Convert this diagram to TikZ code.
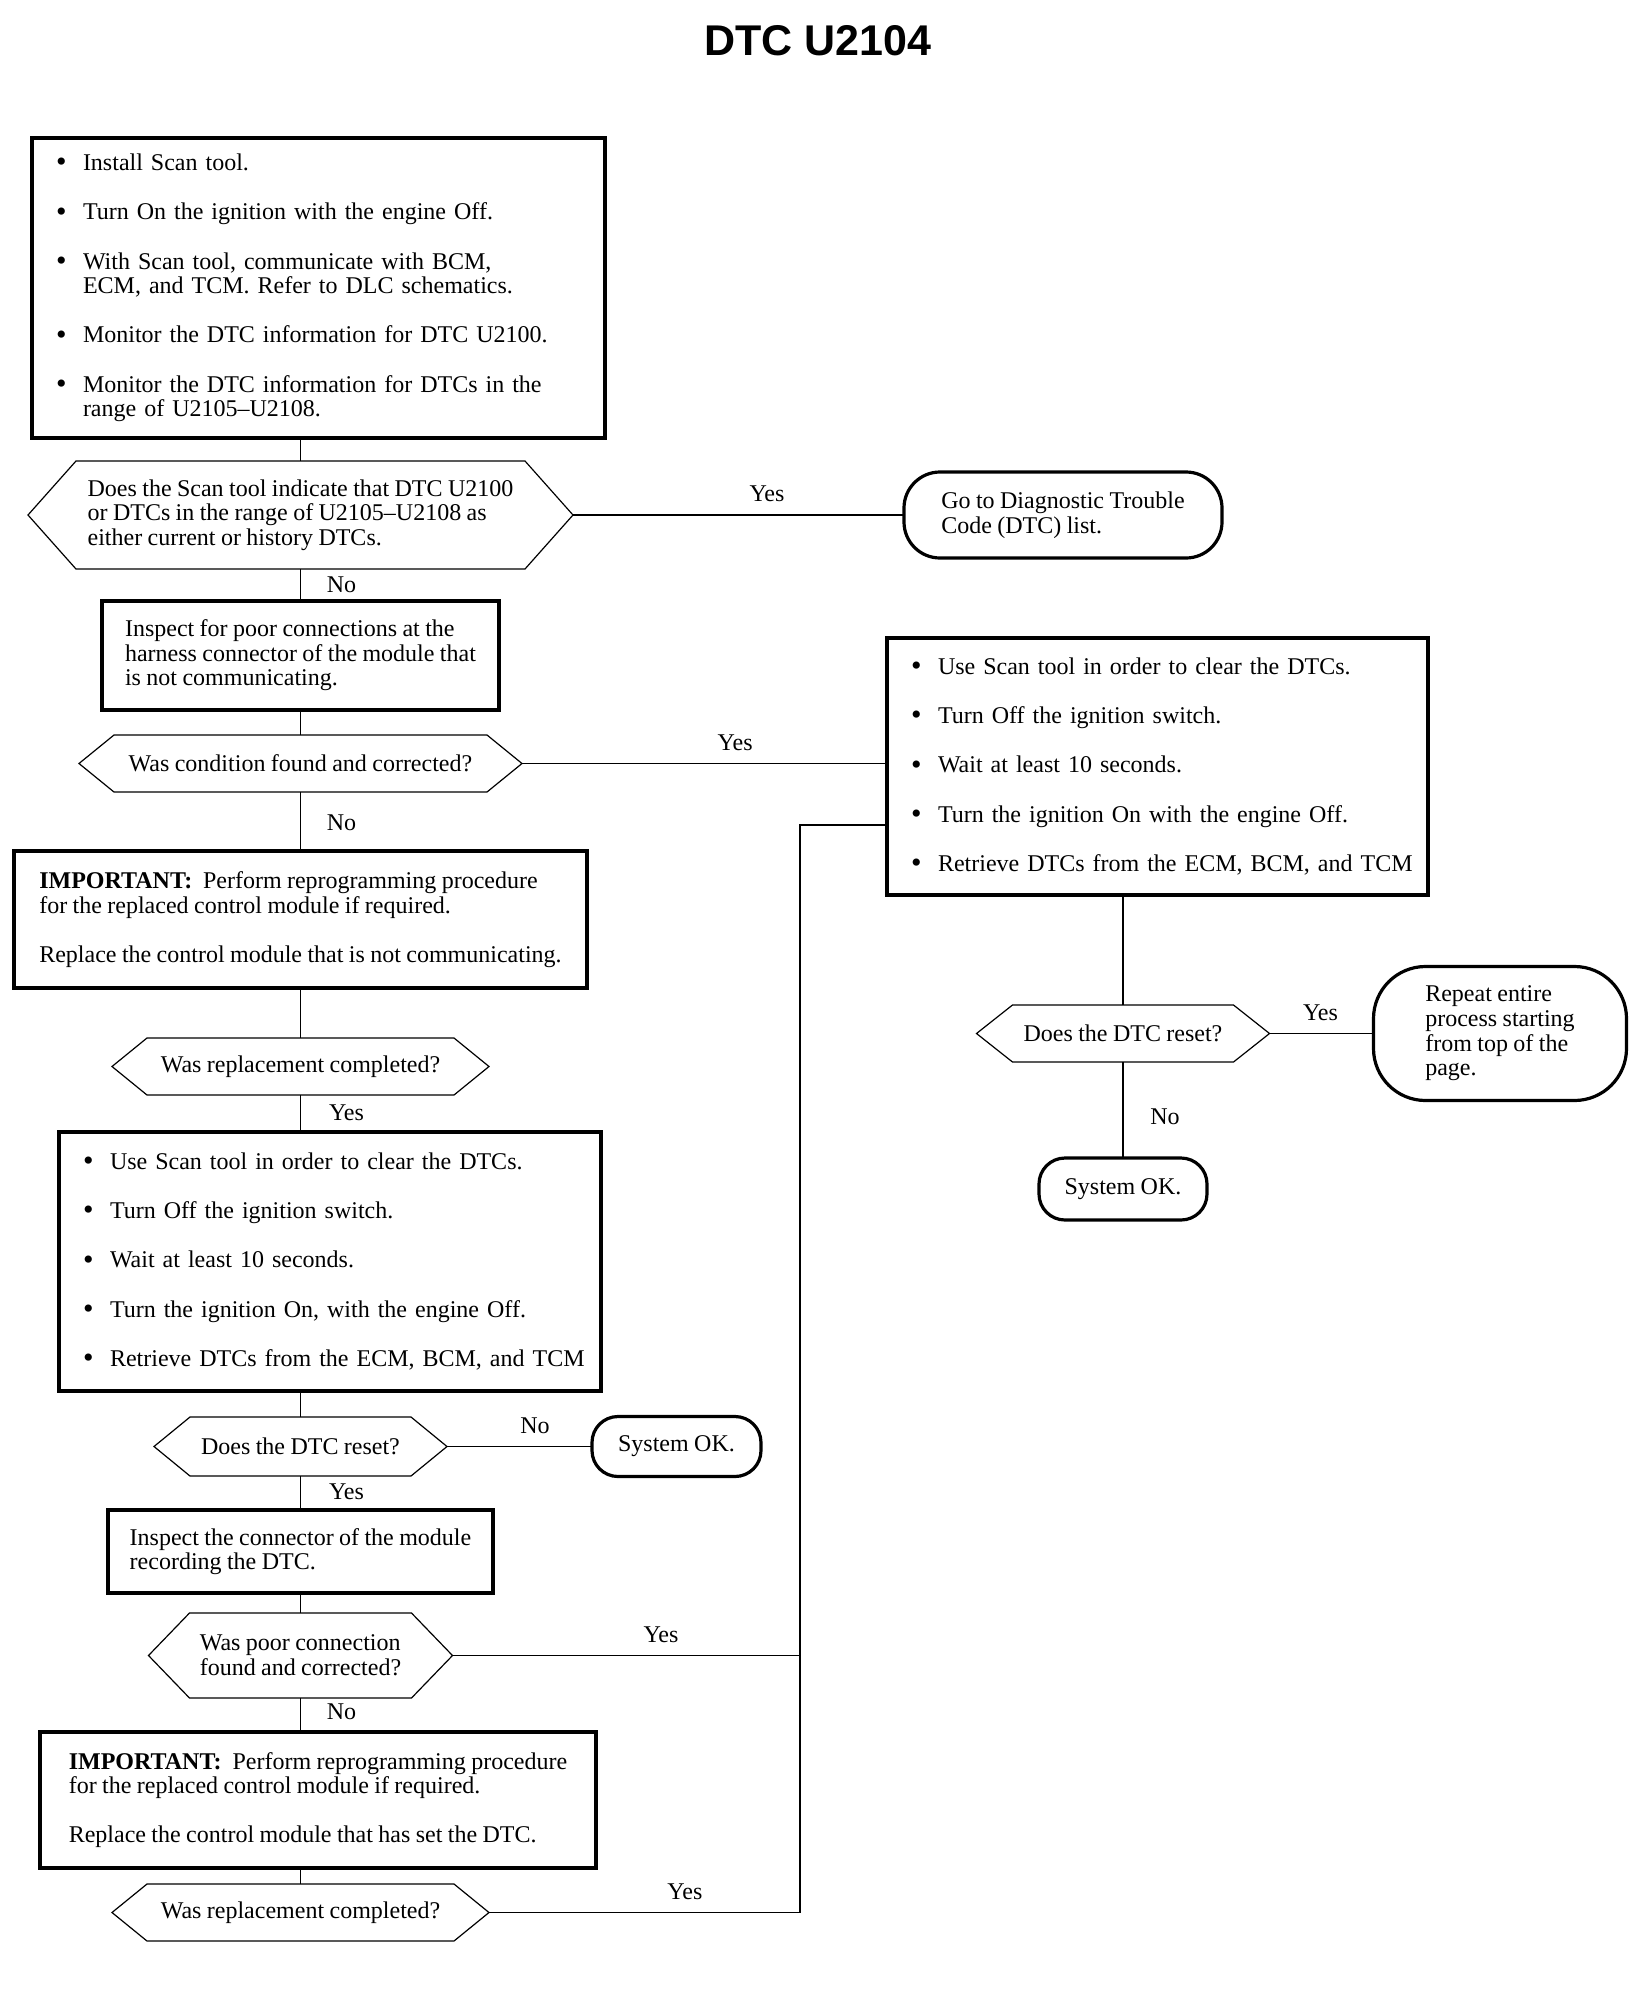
\documentclass[tikz,border=0pt]{standalone}
\usepackage{fontspec}
\setmainfont{Liberation Serif}[WordSpace=0.9]
\newfontfamily\headfont{Liberation Sans}
\usepackage{tikz}
\usetikzlibrary{positioning}

\newcommand{\bitem}[1]{\makebox[13.5pt][l]{\fontsize{15pt}{12pt}\selectfont\raisebox{-0.6pt}{\textbullet}}\mbox{#1}}
\newcommand{\bcont}[1]{\hspace*{13.5pt}\mbox{#1}}

\begin{document}
\begin{tikzpicture}[x=0.5pt, y=-0.5pt,
  txt/.style={font=\fontsize{12pt}{12.3pt}\selectfont, align=left},
  box/.style={txt, draw, line width=1.8pt, outer sep=0pt, inner xsep=9pt, inner ysep=4pt},
  list/.style={box, inner xsep=12pt, text width=#1},
  dec/.style={txt, outer sep=0pt, inner sep=0pt},
  term/.style={txt, draw, line width=1.6pt, outer sep=0pt, rounded corners=#1, inner sep=2pt},
  conn/.style={line width=0.6pt},
  hex/.style={line width=0.6pt},
  lbl/.style={font=\fontsize{12pt}{12.3pt}\selectfont, inner sep=1pt}
]
\useasboundingbox (0,0) rectangle (1648,2002);

\node (title) at (818,41) {\headfont\bfseries\fontsize{21.5pt}{24pt}\selectfont DTC U2104};

\node[list=262.5pt, minimum width=286.5pt, minimum height=150pt] (scan) at (318.5,288)
  {\bitem{Install Scan tool.}\\[12.3pt]
   \bitem{Turn On the ignition with the engine Off.}\\[12.3pt]
   \bitem{With Scan tool, communicate with BCM,}\\
   \bcont{ECM, and TCM. Refer to DLC schematics.}\\[12.3pt]
   \bitem{Monitor the DTC information for DTC U2100.}\\[12.3pt]
   \bitem{Monitor the DTC information for DTCs in the}\\
   \bcont{range of U2105--U2108.}};
\node[dec, minimum width=272.5pt, minimum height=54pt, below=11.5pt of scan, xshift=-9pt] (qhist)
  {Does the Scan tool indicate that DTC U2100\\or DTCs in the range of U2105--U2108 as\\either current or history DTCs.};
\node[term=18pt, minimum width=159pt, minimum height=43pt, right=165.5pt of qhist] (dtclist)
  {Go to Diagnostic Trouble\\Code (DTC) list.};
\node[box, minimum width=198.5pt, minimum height=54.5pt, below=16pt of qhist] (inspA)
  {Inspect for poor connections at the\\harness connector of the module that\\is not communicating.};
\node[dec, minimum width=221.5pt, minimum height=28.5pt, below=12.5pt of inspA] (qfound)
  {Was condition found and corrected?};
\node[box, minimum width=286.5pt, minimum height=68.5pt, below=29.5pt of qfound] (replA)
  {\textbf{IMPORTANT:}\ \ Perform reprogramming procedure\\for the replaced control module if required.\\[12.3pt]
   Replace the control module that is not communicating.};
\node[dec, minimum width=188.5pt, minimum height=28.5pt, below=25pt of replA] (qreplA)
  {Was replacement completed?};
\node[list=247pt, minimum width=271pt, minimum height=129.5pt, below=18.5pt of qreplA, xshift=14.75pt] (clearA)
  {\bitem{Use Scan tool in order to clear the DTCs.}\\[12.3pt]
   \bitem{Turn Off the ignition switch.}\\[12.3pt]
   \bitem{Wait at least 10 seconds.}\\[12.3pt]
   \bitem{Turn the ignition On, with the engine Off.}\\[12.3pt]
   \bitem{Retrieve DTCs from the ECM, BCM, and TCM}};
\node[dec, minimum width=146.5pt, minimum height=29.5pt, below=13pt of clearA, xshift=-14.75pt] (qresetA)
  {Does the DTC reset?};
\node[term=13pt, minimum width=84.5pt, minimum height=30pt, right=72.5pt of qresetA] (okA) {System OK.};
\node[box, minimum width=192.5pt, minimum height=41.5pt, below=17pt of qresetA] (inspB)
  {Inspect the connector of the module\\recording the DTC.};
\node[dec, minimum width=152pt, minimum height=42.5pt, below=10pt of inspB] (qpoor)
  {Was poor connection\\found and corrected?};
\node[box, minimum width=278pt, minimum height=68pt, below=17pt of qpoor, xshift=8.75pt] (replB)
  {\textbf{IMPORTANT:}\ \ Perform reprogramming procedure\\for the replaced control module if required.\\[12.3pt]
   Replace the control module that has set the DTC.};
\node[dec, minimum width=188.5pt, minimum height=28.5pt, below=8pt of replB, xshift=-8.75pt] (qreplB)
  {Was replacement completed?};

\node[list=246.5pt, minimum width=270.5pt, minimum height=128.5pt, right=182.5pt of qfound, yshift=-1.5pt] (clearB)
  {\bitem{Use Scan tool in order to clear the DTCs.}\\[12.3pt]
   \bitem{Turn Off the ignition switch.}\\[12.3pt]
   \bitem{Wait at least 10 seconds.}\\[12.3pt]
   \bitem{Turn the ignition On with the engine Off.}\\[12.3pt]
   \bitem{Retrieve DTCs from the ECM, BCM, and TCM}};
\node[dec, minimum width=146.5pt, minimum height=28.5pt, below=55pt of clearB, xshift=-17.25pt] (qresetB)
  {Does the DTC reset?};
\node[term=26pt, minimum width=126.5pt, minimum height=67pt, right=52pt of qresetB] (repeat)
  {Repeat entire\\process starting\\from top of the\\page.};
\node[term=13pt, minimum width=84pt, minimum height=31pt, below=48pt of qresetB] (okB) {System OK.};

\foreach \n/\s in {qhist/24pt, qfound/17.5pt, qreplA/17.5pt, qresetA/18pt, qpoor/20.5pt, qreplB/17.5pt, qresetB/18pt}
  \draw[hex] (\n.west) -- ([xshift=\s]\n.north west) -- ([xshift=-\s]\n.north east) -- (\n.east)
    -- ([xshift=-\s]\n.south east) -- ([xshift=\s]\n.south west) -- cycle;

\coordinate (join) at (800,825);

\draw[conn] (scan.south -| qhist.north) -- (qhist.north);
\draw[conn] (qhist.east) -- node[lbl, pos=.586, yshift=10.5pt] {Yes} (dtclist.west);
\draw[conn] (qhist.south) -- node[lbl, xshift=20.5pt] {No} (inspA.north);
\draw[conn] (inspA.south) -- (qfound.north);
\draw[conn] (qfound.east) -- node[lbl, pos=.584, yshift=10.5pt] {Yes} (qfound.east -| clearB.west);
\draw[conn] (qfound.south) -- node[lbl, pos=.52, xshift=20.5pt] {No} (replA.north);
\draw[conn] (replA.south) -- (qreplA.north);
\draw[conn] (qreplA.south) -- node[lbl, pos=.49, xshift=23pt] {Yes} (qreplA.south |- clearA.north);
\draw[conn] (clearA.south -| qresetA.north) -- (qresetA.north);
\draw[conn] (qresetA.east) -- node[lbl, pos=.607, yshift=10.5pt] {No} (okA.west);
\draw[conn] (qresetA.south) -- node[lbl, pos=.47, xshift=23pt] {Yes} (inspB.north);
\draw[conn] (inspB.south) -- (qpoor.north);
\draw[conn] (qpoor.south) -- node[lbl, pos=.41, xshift=20.5pt] {No} (qpoor.south |- replB.north);
\draw[conn] (replB.south -| qreplB.north) -- (qreplB.north);
\draw[conn] (qpoor.east) -- node[lbl, pos=.6, yshift=10.5pt] {Yes} (qpoor.east -| join);
\draw[conn] (qreplB.east) -- node[lbl, pos=.63, yshift=10.5pt] {Yes} (qreplB.east -| join) -- (join) -- (join -| clearB.west);
\draw[conn] (clearB.south -| qresetB.north) -- (qresetB.north);
\draw[conn] (qresetB.east) -- node[lbl, pos=.49, yshift=10.5pt] {Yes} (repeat.west);
\draw[conn] (qresetB.south) -- node[lbl, pos=.57, xshift=21pt] {No} (okB.north);
\end{tikzpicture}
\end{document}
